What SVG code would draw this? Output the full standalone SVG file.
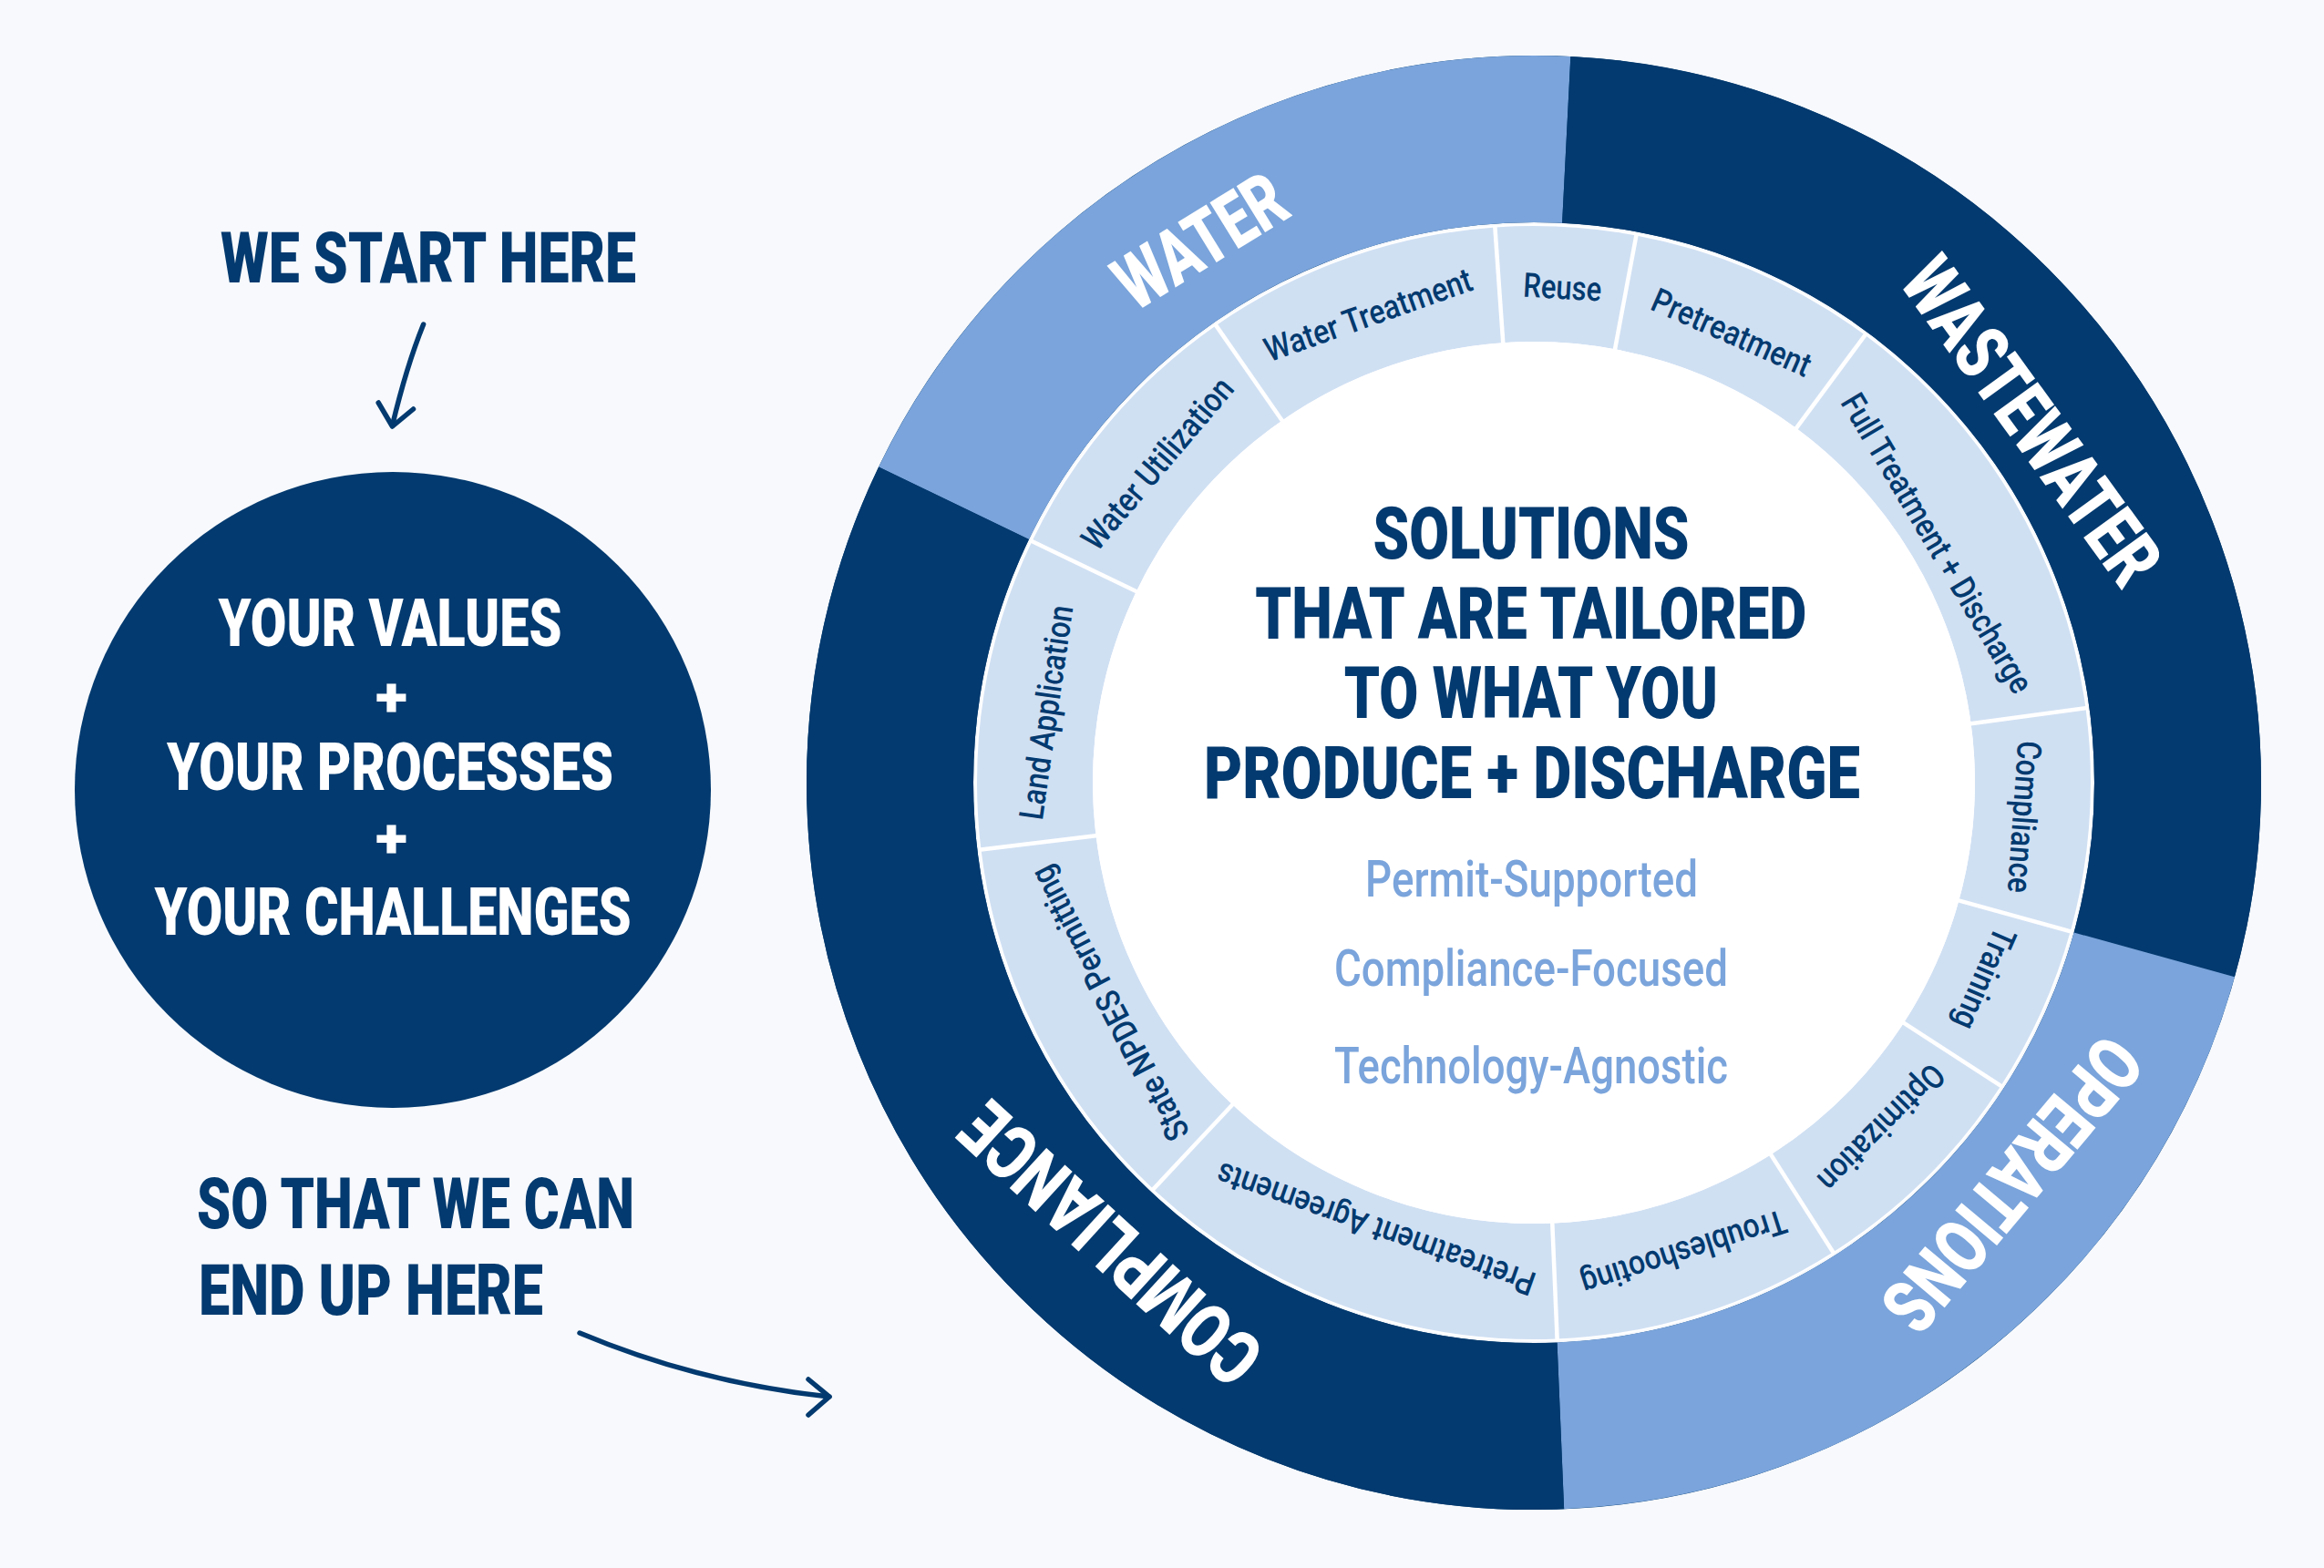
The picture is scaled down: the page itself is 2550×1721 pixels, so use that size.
<svg xmlns="http://www.w3.org/2000/svg" width="2550" height="1721" viewBox="0 0 2550 1721">
<defs>
<style>
.head{font-family:Roboto,"Liberation Sans",Arial,sans-serif;font-weight:900;fill:#033A6F}
.wh{font-family:Roboto,"Liberation Sans",Arial,sans-serif;font-weight:900;fill:#FFFFFF;text-anchor:middle}
.seg{font-family:Roboto,"Liberation Sans",Arial,sans-serif;font-weight:900;font-size:84px;fill:#FFFFFF;text-anchor:middle}
.lab{font-family:Roboto,"Liberation Sans",Arial,sans-serif;font-weight:500;font-size:37px;fill:#033A6F;text-anchor:middle}
.sub{font-family:Roboto,"Liberation Sans",Arial,sans-serif;font-weight:500;font-size:55px;fill:#7AA4DB;text-anchor:middle}
.ctr{font-family:Roboto,"Liberation Sans",Arial,sans-serif;font-weight:900;font-size:79px;fill:#033A6F;text-anchor:middle}
.ring{fill:none;stroke-width:183}
.lring{fill:none;stroke:#D0E0F3;stroke-width:127}
.sep{stroke:#FFFFFF;stroke-width:4.5}
.arrow{fill:none;stroke:#033A6F;stroke-width:5.5;stroke-linecap:round;stroke-linejoin:round}
</style>
</defs>
<rect width="2550" height="1721" fill="#F7F9FC"/>

<g id="start-label">
<text class="head" x="242" y="310" font-size="77" textLength="456" lengthAdjust="spacingAndGlyphs">WE START HERE</text>
</g>

<g id="inputs-circle">
<circle cx="431" cy="867" r="349" fill="#033A6F"/>
<text class="wh" x="428" y="709" font-size="72" textLength="377" lengthAdjust="spacingAndGlyphs">YOUR VALUES</text>
<text class="wh" x="429.5" y="786" font-size="60" textLength="35" lengthAdjust="spacingAndGlyphs">+</text>
<text class="wh" x="428" y="867" font-size="72" textLength="490" lengthAdjust="spacingAndGlyphs">YOUR PROCESSES</text>
<text class="wh" x="429.5" y="941" font-size="60" textLength="35" lengthAdjust="spacingAndGlyphs">+</text>
<text class="wh" x="431" y="1026" font-size="72" textLength="523" lengthAdjust="spacingAndGlyphs">YOUR CHALLENGES</text>
</g>

<g id="end-label">
<text class="head" x="216" y="1348" font-size="77" textLength="480" lengthAdjust="spacingAndGlyphs">SO THAT WE CAN</text>
<text class="head" x="218" y="1443" font-size="77" textLength="378" lengthAdjust="spacingAndGlyphs">END UP HERE</text>
</g>

<g id="connectors">
<path class="arrow" d="M464.6,356 Q446,402 430.5,467"/>
<path class="arrow" d="M415.2,442 L430.5,468 L453.5,449"/>
<path class="arrow" d="M636,1463 Q767,1518 910,1533"/>
<path class="arrow" d="M887,1514 L910,1533 L887,1553"/>
</g>

<g id="wheel">
<circle cx="1683" cy="859" r="706.5" class="ring" stroke="#033A6F"/>
<g id="seg-water">
<circle cx="1683" cy="859" r="706.5" class="ring" stroke="#7AA4DB" stroke-dasharray="828.63 3610.44" stroke-dashoffset="-3646.2" transform="rotate(-90 1683 859)"/>
<text class="seg" x="1683" y="190" textLength="205" lengthAdjust="spacingAndGlyphs" transform="rotate(328.4 1683 859)">WATER</text>
</g>
<g id="seg-wastewater">
<circle cx="1683" cy="859" r="706.5" class="ring" stroke="#033A6F" stroke-dasharray="1265.13 3173.94" stroke-dashoffset="-35.76" transform="rotate(-90 1683 859)"/>
<text class="seg" x="1683" y="213" textLength="420" lengthAdjust="spacingAndGlyphs" transform="rotate(54 1683 859)">WASTEWATER</text>
</g>
<g id="seg-operations">
<circle cx="1683" cy="859" r="706.5" class="ring" stroke="#7AA4DB" stroke-dasharray="889.05 3550.02" stroke-dashoffset="-1300.9" transform="rotate(-90 1683 859)"/>
<text class="seg" x="1683" y="203" textLength="390" lengthAdjust="spacingAndGlyphs" transform="rotate(130 1683 859)">OPERATIONS</text>
</g>
<g id="seg-compliance">
<circle cx="1683" cy="859" r="706.5" class="ring" stroke="#033A6F" stroke-dasharray="1456.26 2982.81" stroke-dashoffset="-2189.94" transform="rotate(-90 1683 859)"/>
<text class="seg" x="1683" y="202" textLength="412" lengthAdjust="spacingAndGlyphs" transform="rotate(222.5 1683 859)">COMPLIANCE</text>
</g>

<circle cx="1683" cy="859" r="613" fill="#FFFFFF"/>

<g transform="rotate(-90 1683 859)">
<circle id="arc-water-treatment" cx="1683" cy="859" r="547.5" class="lring" stroke-dasharray="294.32 3145.72" stroke-dashoffset="-3107.51"/>
<circle id="arc-reuse" cx="1683" cy="859" r="547.5" class="lring" stroke-dasharray="139.51 3300.53" stroke-dashoffset="-3401.83"/>
<circle id="arc-pretreatment" cx="1683" cy="859" r="547.5" class="lring" stroke-dasharray="247.49 3192.55" stroke-dashoffset="-101.29"/>
<circle id="arc-full-treatment" cx="1683" cy="859" r="547.5" class="lring" stroke-dasharray="437.65 3002.39" stroke-dashoffset="-348.78"/>
<circle id="arc-compliance" cx="1683" cy="859" r="547.5" class="lring" stroke-dasharray="221.69 3218.35" stroke-dashoffset="-786.43"/>
<circle id="arc-training" cx="1683" cy="859" r="547.5" class="lring" stroke-dasharray="167.22 3272.82" stroke-dashoffset="-1008.13"/>
<circle id="arc-optimization" cx="1683" cy="859" r="547.5" class="lring" stroke-dasharray="234.11 3205.93" stroke-dashoffset="-1175.35"/>
<circle id="arc-troubleshooting" cx="1683" cy="859" r="547.5" class="lring" stroke-dasharray="287.63 3152.41" stroke-dashoffset="-1409.47"/>
<circle id="arc-pretreatment-agreements" cx="1683" cy="859" r="547.5" class="lring" stroke-dasharray="434.78 3005.26" stroke-dashoffset="-1697.09"/>
<circle id="arc-state-npdes" cx="1683" cy="859" r="547.5" class="lring" stroke-dasharray="382.23 3057.81" stroke-dashoffset="-2131.88"/>
<circle id="arc-land-application" cx="1683" cy="859" r="547.5" class="lring" stroke-dasharray="311.52 3128.52" stroke-dashoffset="-2514.11"/>
<circle id="arc-water-utilization" cx="1683" cy="859" r="547.5" class="lring" stroke-dasharray="281.89 3158.15" stroke-dashoffset="-2825.62"/>
</g>

<circle cx="1683" cy="859" r="484" fill="#FFFFFF"/>

<g id="separators">
<line class="sep" x1="1683" y1="377" x2="1683" y2="246" transform="rotate(325.2 1683 859)"/>
<line class="sep" x1="1683" y1="377" x2="1683" y2="246" transform="rotate(356 1683 859)"/>
<line class="sep" x1="1683" y1="377" x2="1683" y2="246" transform="rotate(10.6 1683 859)"/>
<line class="sep" x1="1683" y1="377" x2="1683" y2="246" transform="rotate(36.5 1683 859)"/>
<line class="sep" x1="1683" y1="377" x2="1683" y2="246" transform="rotate(82.3 1683 859)"/>
<line class="sep" x1="1683" y1="377" x2="1683" y2="246" transform="rotate(105.5 1683 859)"/>
<line class="sep" x1="1683" y1="377" x2="1683" y2="246" transform="rotate(123 1683 859)"/>
<line class="sep" x1="1683" y1="377" x2="1683" y2="246" transform="rotate(147.5 1683 859)"/>
<line class="sep" x1="1683" y1="377" x2="1683" y2="246" transform="rotate(177.6 1683 859)"/>
<line class="sep" x1="1683" y1="377" x2="1683" y2="246" transform="rotate(223.1 1683 859)"/>
<line class="sep" x1="1683" y1="377" x2="1683" y2="246" transform="rotate(263.1 1683 859)"/>
<line class="sep" x1="1683" y1="377" x2="1683" y2="246" transform="rotate(295.7 1683 859)"/>
</g>

<g id="lab-water-treatment"><text class="lab" x="1683" y="327.2" textLength="239" lengthAdjust="spacingAndGlyphs" transform="rotate(340.5 1683 859)">Water Treatment</text></g>
<g id="lab-reuse"><text class="lab" x="1683" y="327.2" textLength="86" lengthAdjust="spacingAndGlyphs" transform="rotate(3.3 1683 859)">Reuse</text></g>
<g id="lab-pretreatment"><text class="lab" x="1683" y="332.2" textLength="187" lengthAdjust="spacingAndGlyphs" transform="rotate(23.7 1683 859)">Pretreatment</text></g>
<g id="lab-full-treatment"><text class="lab" x="1683" y="357.2" textLength="375" lengthAdjust="spacingAndGlyphs" transform="rotate(59.3 1683 859)">Full Treatment + Discharge</text></g>
<g id="lab-compliance"><text class="lab" x="1683" y="332.2" textLength="167" lengthAdjust="spacingAndGlyphs" transform="rotate(94 1683 859)">Compliance</text></g>
<g id="lab-training"><text class="lab" x="1683" y="332.2" textLength="118" lengthAdjust="spacingAndGlyphs" transform="rotate(113.5 1683 859)">Training</text></g>
<g id="lab-optimization"><text class="lab" x="1683" y="334.2" textLength="180" lengthAdjust="spacingAndGlyphs" transform="rotate(134.8 1683 859)">Optimization</text></g>
<g id="lab-troubleshooting"><text class="lab" x="1683" y="330.2" textLength="234" lengthAdjust="spacingAndGlyphs" transform="rotate(162.3 1683 859)">Troubleshooting</text></g>
<g id="lab-pretreatment-agreements"><text class="lab" x="1683" y="352.2" textLength="368" lengthAdjust="spacingAndGlyphs" transform="rotate(199.5 1683 859)">Pretreatment Agreements</text></g>
<g id="lab-state-npdes"><text class="lab" x="1683" y="347.2" textLength="334" lengthAdjust="spacingAndGlyphs" transform="rotate(242.5 1683 859)">State NPDES Permitting</text></g>
<g id="lab-land-application"><text class="lab" x="1683" y="331.2" textLength="237" lengthAdjust="spacingAndGlyphs" transform="rotate(278.2 1683 859)">Land Application</text></g>
<g id="lab-water-utilization"><text class="lab" x="1683" y="330.2" textLength="235" lengthAdjust="spacingAndGlyphs" transform="rotate(310.3 1683 859)">Water Utilization</text></g>

<g id="center">
<text class="ctr" x="1680" y="612.7" textLength="347" lengthAdjust="spacingAndGlyphs">SOLUTIONS</text>
<text class="ctr" x="1679.7" y="700.5" textLength="605" lengthAdjust="spacingAndGlyphs">THAT ARE TAILORED</text>
<text class="ctr" x="1679.8" y="788.2" textLength="410" lengthAdjust="spacingAndGlyphs">TO WHAT YOU</text>
<text class="ctr" x="1681" y="876" textLength="720" lengthAdjust="spacingAndGlyphs">PRODUCE + DISCHARGE</text>
<text class="sub" x="1680.5" y="983.5" textLength="365" lengthAdjust="spacingAndGlyphs">Permit-Supported</text>
<text class="sub" x="1680" y="1081.6" textLength="432" lengthAdjust="spacingAndGlyphs">Compliance-Focused</text>
<text class="sub" x="1680" y="1188.6" textLength="432" lengthAdjust="spacingAndGlyphs">Technology-Agnostic</text>
</g>
</g>
</svg>
